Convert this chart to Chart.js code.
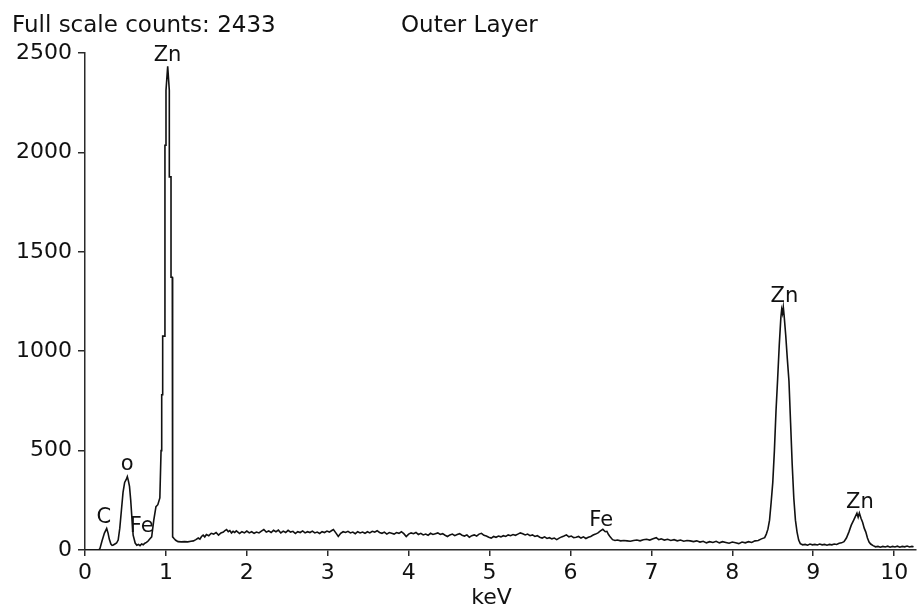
<!DOCTYPE html>
<html>
<head>
<meta charset="utf-8">
<script src="https://cdn.jsdelivr.net/npm/chart.js@4/dist/chart.umd.min.js"></script>
<style>
html,body{margin:0;padding:0;background:#fff;}
#wrap{width:922px;height:609px;position:relative;}
</style>
</head>
<body>
<div id="wrap"><canvas id="c"></canvas></div>
<script>
// ---- data ----
const lowKeV = [0.00,0.17,0.185,0.21,0.24,0.268,0.285,0.30,0.32,0.335,0.35,0.37,0.39,0.41,0.43,0.45,0.47,0.49,0.51,0.523,0.535,0.55,0.565,0.58,0.595,0.62,0.64,0.66,0.68,0.70,0.72,0.74,0.76,0.78,0.80,0.824,0.85,0.877,0.90,0.925,0.94,0.948,0.960,0.960,0.988,0.988,1.001,1.001,1.022,1.042,1.042,1.063,1.063,1.079,1.079,1.085,1.085,1.10,1.121];
const lowCounts = [0,0,8,45,85,108,85,55,30,23,25,30,35,50,110,200,290,340,355,369,350,320,250,160,75,35,24,28,22,30,26,34,38,45,55,66,150,218,228,262,500,781,781,1076,1076,2036,2036,2312,2433,2312,1877,1877,1372,1372,849,849,66,58,49];

const bgKeV = [1.15,1.19,1.23,1.27,1.31,1.34,1.37,1.40,1.42,1.44,1.46,1.48,1.50,1.53,1.56,1.59,1.62,1.65,1.68,1.71,1.73,1.75,1.77,1.79,1.81,1.83,1.85,1.87,1.89,1.91,1.94,1.97,2.00,2.03,2.06,2.09,2.12,2.15,2.18,2.21,2.24,2.27,2.30,2.33,2.36,2.39,2.42,2.45,2.48,2.51,2.54,2.57,2.60,2.63,2.66,2.69,2.72,2.75,2.78,2.81,2.84,2.87,2.90,2.93,2.96,2.99,3.02,3.05,3.07,3.10,3.13,3.16,3.19,3.22,3.25,3.28,3.31,3.34,3.37,3.40,3.43,3.46,3.49,3.52,3.55,3.58,3.61,3.64,3.67,3.70,3.73,3.76,3.79,3.82,3.85,3.88,3.91,3.94,3.97,4.00,4.03,4.06,4.09,4.12,4.15,4.18,4.21,4.24,4.27,4.30,4.33,4.36,4.39,4.42,4.45,4.48,4.51,4.54,4.57,4.60,4.63,4.66,4.69,4.72,4.75,4.78,4.81,4.84,4.87,4.90,4.93,4.96,4.99,5.02,5.05,5.08,5.11,5.14,5.17,5.20,5.23,5.26,5.29,5.32,5.35,5.38,5.41,5.44,5.47,5.50,5.53,5.56,5.59,5.62,5.65,5.68,5.71,5.74,5.77,5.80,5.83,5.86,5.89,5.92,5.95,5.98,6.01,6.04,6.07,6.10,6.13,6.16,6.19,6.22,6.25,6.28,6.31,6.34,6.37,6.40,6.43,6.45,6.47,6.49,6.52,6.55,6.58,6.62,6.66,6.70,6.74,6.78,6.82,6.86,6.90,6.94,6.98,7.02,7.06,7.09,7.12,7.16,7.20,7.24,7.28,7.32,7.36,7.40,7.44,7.48,7.52,7.56,7.60,7.64,7.68,7.72,7.76,7.80,7.84,7.88,7.92,7.96,8.00,8.04,8.08,8.12,8.16,8.20,8.24,8.28,8.32,8.36,8.40];
const bgCounts = [42,41,42,41,44,46,52,60,55,68,75,66,78,72,84,80,88,75,86,90,98,103,92,98,86,94,88,96,90,83,92,86,95,86,92,84,90,86,95,103,90,96,88,99,92,100,86,95,88,99,90,94,83,92,88,96,86,92,88,95,86,90,83,92,88,95,90,98,103,86,68,84,92,88,94,86,90,82,92,86,90,84,92,86,94,90,97,88,84,90,80,88,84,80,88,84,92,82,68,80,86,82,88,78,84,76,80,74,84,78,82,86,78,82,74,68,76,80,72,78,82,74,70,76,64,72,76,70,80,84,74,70,64,60,68,64,70,66,72,68,76,72,78,74,80,86,82,76,80,72,76,68,72,64,60,66,58,62,56,60,52,60,66,70,76,66,70,62,64,68,60,66,58,64,68,75,80,86,96,104,92,94,78,66,52,48,50,46,48,46,44,48,50,46,52,54,50,56,62,52,56,50,54,48,52,46,50,44,48,46,42,46,40,44,36,42,38,44,36,42,38,34,40,36,32,40,36,42,38,46,48,56,62];

const znKeV = [8.42,8.44,8.46,8.48,8.50,8.52,8.54,8.56,8.58,8.60,8.61,8.62,8.63,8.64,8.66,8.68,8.70,8.72,8.74,8.76,8.78,8.80,8.82,8.84,8.87,8.90,8.93,8.96,8.99,9.02,9.05,9.08,9.11,9.14,9.17,9.20,9.23,9.26,9.29,9.32,9.35,9.38,9.41,9.44,9.47,9.50,9.52,9.54,9.555,9.57,9.59,9.61,9.63,9.65,9.67,9.69,9.71,9.74,9.77,9.80,9.83,9.86,9.89,9.92,9.95,9.98,10.01,10.04,10.07,10.10,10.13,10.16,10.19,10.22,10.24];
const znCounts = [80,105,150,240,340,500,700,860,1030,1170,1210,1190,1222,1180,1080,960,850,640,430,260,150,90,50,32,26,28,24,30,26,28,25,30,26,28,24,28,26,30,28,34,36,42,60,90,125,150,168,185,165,186,160,140,110,90,60,40,30,22,16,18,14,18,15,19,14,18,15,19,14,18,16,20,15,18,16];

const xTickValues = [0,1,2,3,4,5,6,7,8,9,10];
const yTickValues = [0,500,1000,1500,2000,2500];

const peakLabels = ['C','o','Fe','Zn','Fe','Zn','Zn'];
const peakLabelKeV = [0.233,0.52,0.70,1.02,6.38,8.643,9.576];
const peakLabelCounts = [134,403,91,2458,120,1245,210];

const chartTitleLeft = 'Full scale counts: 2433';
const chartTitleRight = 'Outer Layer';
const xAxisTitle = 'keV';

// ---- build dataset ----
const allKeV = lowKeV.concat(bgKeV, znKeV);
const allCounts = lowCounts.concat(bgCounts, znCounts);
const points = allKeV.map((k, i) => ({x: k, y: allCounts[i]}));

const FONT = '"DejaVu Sans", sans-serif';
const AX = '#2a2a2a';

const textPlugin = {
  id: 'texts',
  afterDraw(chart) {
    const {ctx, scales: {x, y}} = chart;
    ctx.save();
    ctx.fillStyle = '#111';
    ctx.textBaseline = 'alphabetic';
    ctx.font = '23px ' + FONT;
    ctx.textAlign = 'left';
    ctx.fillText(chartTitleLeft, 12, 32);
    ctx.fillText(chartTitleRight, 401, 32);
    ctx.font = '22px ' + FONT;
    ctx.textAlign = 'center';
    ctx.fillText(xAxisTitle, x.getPixelForValue(5) + 2, 604);
    ctx.font = '21px ' + FONT;
    peakLabels.forEach((t, i) => {
      ctx.fillText(t, x.getPixelForValue(peakLabelKeV[i]), y.getPixelForValue(peakLabelCounts[i]));
    });
    ctx.restore();
  }
};

new Chart(document.getElementById('c'), {
  type: 'line',
  data: {
    datasets: [{
      data: points,
      borderColor: '#111',
      borderWidth: 1.6,
      pointRadius: 0,
      tension: 0,
      fill: false
    }]
  },
  options: {
    responsive: true,
    maintainAspectRatio: false,
    animation: false,
    layout: {padding: {top: 53, right: 6, left: 0, bottom: 0}},
    plugins: {legend: {display: false}, tooltip: {enabled: false}, title: {display: false}},
    scales: {
      x: {
        type: 'linear',
        min: 0,
        max: 10.27,
        afterBuildTicks: s => { s.ticks = xTickValues.map(v => ({value: v})); },
        afterFit: s => { s.height = 59; },
        grid: {drawOnChartArea: false, drawTicks: true, tickLength: 6, color: AX, lineWidth: 1.5},
        border: {display: true, color: AX, width: 1.5},
        ticks: {font: {family: FONT, size: 22}, color: '#111', padding: 4, maxRotation: 0, autoSkip: false,
                callback: v => String(v)}
      },
      y: {
        type: 'linear',
        min: 0,
        max: 2500,
        afterBuildTicks: s => { s.ticks = yTickValues.map(v => ({value: v})); },
        afterFit: s => { s.width = 85; },
        grid: {drawOnChartArea: false, drawTicks: true, tickLength: 7, color: AX, lineWidth: 1.5},
        border: {display: true, color: AX, width: 1.5},
        ticks: {font: {family: FONT, size: 22}, color: '#111', padding: 6,
                callback: v => String(v)}
      }
    }
  },
  plugins: [textPlugin]
});
</script>
</body>
</html>
